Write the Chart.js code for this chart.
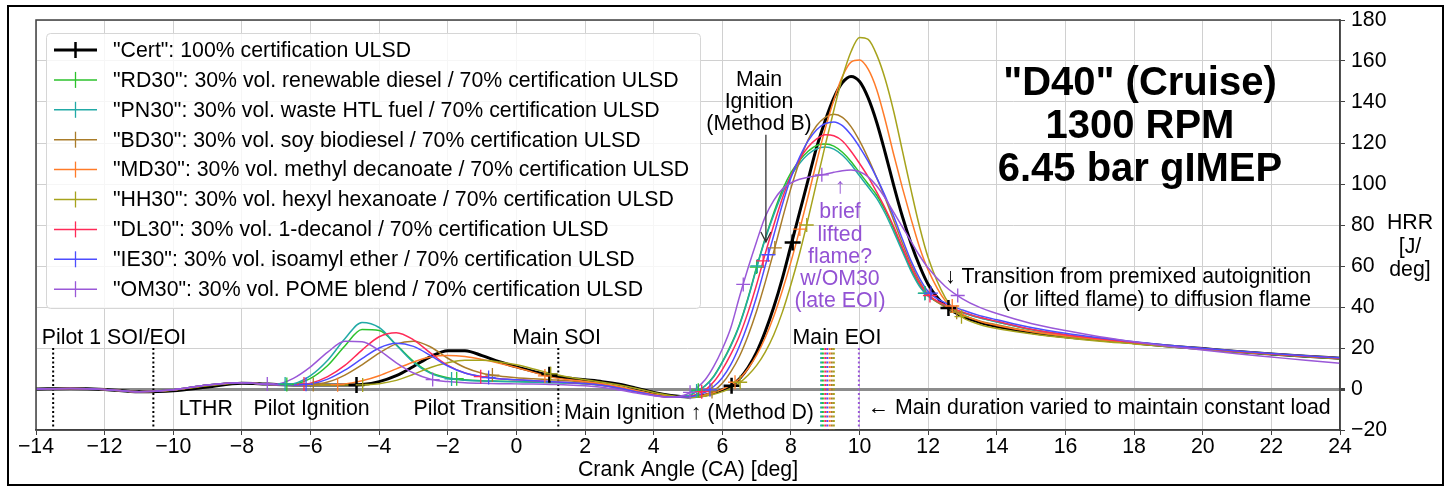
<!DOCTYPE html>
<html>
<head>
<meta charset="utf-8">
<title>D40 Cruise HRR</title>
<script src="https://cdn.jsdelivr.net/npm/chart.js@4.4.0/dist/chart.umd.min.js"></script>
<style>
  html, body { margin: 0; padding: 0; background: #fff; }
  canvas { display: block; }
</style>
</head>
<body>
<canvas id="hrr" width="1451" height="489"></canvas>
<script>
// Crank angle grid [deg] shared by all heat-release-rate traces
const crankAngle = [-14, -13, -12, -11, -10, -9, -8, -7.5, -7,
  -6.5, -6, -5.5, -5, -4.5, -4, -3.5, -3, -2.5, -2, -1.5, -1, -0.5, 0, 0.5, 1, 1.5, 2, 2.5, 3, 3.5, 4, 4.5,
  5, 5.25, 5.5, 5.75, 6,
  6.25, 6.5, 6.75, 7, 7.25, 7.5, 7.75, 8, 8.25, 8.5, 8.75, 9, 9.25, 9.5, 9.75, 10, 10.25, 10.5, 10.75, 11, 11.25, 11.5, 11.75, 12,
  12.5, 13, 13.5, 14, 15, 16, 17, 18, 19, 20, 21, 22, 23, 24];

// Heat release rate [J/deg] per fuel
const certHRR = [0, 0.2, -0.2, -1.4, -0.9, 1.0, 2.8, 2.6, 2.2,
  2.0, 1.9, 1.9, 1.9, 2.2, 3.6, 6.5, 11, 15.8, 18.7, 18.6, 16.3, 13.3, 10.8, 8.6, 6.6, 5.4, 4.5, 3.6, 2.3, 0.4, -1.7, -3.2,
  -3.9, -3.7, -3.0, -1.9, -0.4,
  1.4, 5, 10.5, 18, 28, 40, 54, 70, 86, 102, 118, 131, 142, 149.5, 152.5, 150, 142, 130, 115, 99, 84, 71, 60, 51,
  40.5, 35.5, 32.5, 30.5, 27.5, 25.5, 24, 22.5, 21, 19.7, 18.3, 17.1, 16, 15];
const rd30HRR = [0, 0.2, -0.2, -1.3, -0.4, 2.0, 3.1, 2.6, 2.1,
  2.4, 5.2, 11.5, 21, 29, 28.5, 21.5, 13.5, 8, 5.5, 4.5, 4.0, 3.8, 3.6, 3.4, 3.2, 3.0, 2.6, 1.8, 0.5, -1.2, -2.8, -3.8,
  -3.4, -1.2, 1.6, 6.3, 13.2,
  21.5, 31.5, 44.5, 59.5, 73.5, 86, 97, 105.5, 111.5, 116, 118.8, 119.5, 118.5, 115.5, 111, 105.5, 100, 94.5, 87, 78, 68, 58.5, 50.5, 45.5,
  40.8, 37.3, 34.8, 32.8, 29, 26.4, 24.4, 22.6, 21, 19.6, 18.2, 17, 15.9, 14.9];
const pn30HRR = [0, 0.2, -0.2, -1.3, -0.4, 2.0, 3.1, 2.6, 2.1,
  2.6, 6.5, 14, 24.5, 32.5, 30, 21.5, 13, 7.6, 5.1, 4.3, 3.9, 3.7, 3.5, 3.3, 3.1, 2.9, 2.5, 1.7, 0.4, -1.3, -2.9, -3.8,
  -3.3, -1.0, 1.5, 6, 13,
  21, 31, 44, 59, 73, 85, 95.5, 104, 110, 114.5, 117.2, 118, 117, 114, 109.5, 104, 98.5, 93, 85.5, 76.5, 67, 57.5, 50, 45.3,
  40.7, 37.2, 34.7, 32.7, 29, 26.4, 24.4, 22.6, 21, 19.6, 18.2, 17, 15.9, 14.9];
const bd30HRR = [0, 0.2, -0.2, -1.3, -0.5, 1.8, 3.0, 2.6, 2.1,
  1.9, 2.1, 3.4, 6.8, 11.8, 17.5, 22, 23.3, 20.5, 15, 10.5, 7.7, 6.3, 5.5, 5.0, 4.5, 4.0, 3.3, 2.3, 0.8, -1.0, -2.7, -3.8,
  -4.0, -3.7, -2.8, -0.8, 2.8,
  8.5, 16, 26, 38, 52, 67, 83, 98, 111, 121.5, 128.5, 132.5, 134, 132.5, 128, 121, 112.5, 103, 93, 82, 71, 61, 52.5, 46,
  40, 36, 33.2, 31.3, 28, 25.6, 23.8, 22.3, 20.9, 19.6, 18.3, 17.1, 16, 15];
const md30HRR = [0, 0.2, -0.2, -1.3, -0.5, 1.8, 3.0, 2.6, 2.1,
  2.0, 1.9, 1.9, 2.4, 4, 6.5, 9.8, 13.2, 15.6, 16.3, 15.8, 14.4, 12.6, 10.5, 8.1, 5.8, 4.6, 3.7, 2.6, 1.1, -0.8, -2.5, -3.6,
  -4.0, -3.7, -3.0, -1.8, -0.2,
  2, 5, 10, 16.5, 25, 35.5, 48, 62, 77.5, 94, 111, 127, 141, 152.5, 159.5, 160.5, 156, 146, 131, 114, 98, 83, 69, 58,
  43, 36.5, 33, 31, 28, 26, 24.2, 22.7, 21.2, 19.8, 18.4, 17.2, 16.1, 15.1];
const hh30HRR = [0, 0.2, -0.2, -1.3, -0.6, 1.6, 2.9, 2.6, 2.1,
  2.0, 1.9, 1.9, 1.9, 2.1, 2.6, 4.2, 7.2, 10.5, 12.8, 14, 14, 13.2, 11.8, 9.8, 7.6, 5.9, 4.5, 3.3, 1.9, 0.2, -1.7, -3.2,
  -4.0, -4.0, -3.5, -2.6, -1.3,
  0.4, 3, 6.7, 11.5, 18, 26.5, 37.5, 51, 66, 83, 101, 119, 136, 152, 164.5, 171.5, 170.5, 163, 151, 135, 116, 97, 79, 64,
  44.5, 35, 31.5, 29.5, 27, 25, 23.3, 22, 20.6, 19.3, 18, 16.9, 15.8, 14.8];
const dl30HRR = [0, 0.2, -0.2, -1.3, -0.4, 2.0, 3.1, 2.6, 2.1,
  2.0, 2.8, 6, 11.5, 19, 25.5, 27.5, 24, 17.5, 11.5, 7.8, 6.0, 5.0, 4.5, 4.0, 3.6, 3.2, 2.7, 1.8, 0.4, -1.4, -3.0, -4.0,
  -3.8, -2.5, -0.5, 3.5, 9.5,
  17, 26, 37.5, 51, 66, 80, 93, 104, 112, 118, 122, 124, 123.5, 121, 116, 110, 103.5, 96, 88, 79, 69, 59.5, 51.5, 46,
  41, 37.5, 35, 33, 29.2, 26.5, 24.5, 22.7, 21.1, 19.7, 18.3, 17.1, 16, 15];
const ie30HRR = [0, 0.2, -0.2, -1.3, -0.4, 2.0, 3.1, 2.6, 2.1,
  1.9, 2.4, 4.8, 9.2, 14.8, 20, 22.3, 20.8, 16.3, 11.2, 7.8, 6.0, 5.0, 4.5, 4.0, 3.6, 3.2, 2.7, 1.8, 0.4, -1.4, -3.0, -3.9,
  -3.9, -3.2, -1.6, 1.2, 5.5,
  12, 21, 32, 45, 60, 75, 90, 103, 113, 121, 126.5, 129.5, 130.3, 128.5, 124, 118, 111, 103, 94, 84, 73, 62.5, 54, 47.5,
  42, 38.5, 35.8, 33.8, 30, 27.2, 25, 23.1, 21.4, 19.9, 18.5, 17.3, 16.2, 15.2];
const om30HRR = [0, 0.2, -0.2, -1.3, -0.4, 2.0, 3.1, 2.6, 2.4,
  5.2, 10.8, 18, 23.3, 23, 18.8, 12.8, 7.8, 4.8, 3.6, 3.1, 2.8, 2.6, 2.5, 2.4, 2.2, 2.0, 1.6, 0.8, -0.5, -2.0, -3.3, -4.0,
  -2.3, 0.5, 4.5, 11, 19.5,
  30, 45, 59, 72, 84, 92, 97.5, 100.5, 102.3, 103.3, 104, 104.8, 105.7, 106.5, 106.8, 106, 103.5, 99, 93, 86, 79, 72, 65, 59,
  50, 44, 39.8, 36.8, 32, 28.5, 25.5, 23, 20.8, 19, 17.2, 15.6, 14, 12.6];

// Combustion event markers [crank angle, HRR]:
// pilot ignition, pilot transition, main ignition (D), main ignition (B), transition to diffusion flame
const certMarks = [[-4.66, 2.0], [0.96, 7.0], [6.27, 1.6], [8.05, 71.5], [12.59, 39.5]];
const rd30Marks = [[-6.69, 2.2], [-1.74, 5.0], [5.3, -0.6], [7.0, 59.5], [11.91, 46.8]];
const pn30Marks = [[-6.74, 2.5], [-1.89, 4.9], [5.25, -1.0], [7.02, 60], [11.9, 46.6]];
const bd30Marks = [[-5.92, 2.2], [-0.7, 6.8], [5.7, -1.2], [7.53, 68.8], [12.83, 37.4]];
const md30Marks = [[-5.21, 2.1], [0.83, 6.4], [6.37, 3.3], [8.26, 78], [12.7, 40.5]];
const hh30Marks = [[-4.48, 2.0], [1.0, 7.4], [6.52, 3.3], [8.46, 80], [12.97, 35.3]];
const dl30Marks = [[-6.19, 2.4], [-1.04, 6.0], [5.4, -1.3], [7.19, 62.5], [12.05, 45.6]];
const ie30Marks = [[-6.13, 2.3], [-0.81, 5.6], [5.64, -0.4], [7.34, 65.5], [12.08, 46.8]];
const om30Marks = [[-7.26, 2.5], [-2.44, 4.6], [5.06, -1.6], [6.61, 51], [8.9, 104.5], [12.86, 45.6]];

const seriesLabels = [
  '"Cert": 100% certification ULSD',
  '"RD30": 30% vol. renewable diesel / 70% certification ULSD',
  '"PN30": 30% vol. waste HTL fuel / 70% certification ULSD',
  '"BD30": 30% vol. soy biodiesel / 70% certification ULSD',
  '"MD30": 30% vol. methyl decanoate / 70% certification ULSD',
  '"HH30": 30% vol. hexyl hexanoate / 70% certification ULSD',
  '"DL30": 30% vol. 1-decanol / 70% certification ULSD',
  '"IE30": 30% vol. isoamyl ether / 70% certification ULSD',
  '"OM30": 30% vol. POME blend / 70% certification ULSD'
];
const seriesHRR = [certHRR, rd30HRR, pn30HRR, bd30HRR, md30HRR, hh30HRR, dl30HRR, ie30HRR, om30HRR];
const seriesMarks = [certMarks, rd30Marks, pn30Marks, bd30Marks, md30Marks, hh30Marks, dl30Marks, ie30Marks, om30Marks];

// Injection timing [deg]
const pilotSOI = -13.5;
const pilotEOI = -10.58;
const mainSOI = 1.22;
const mainEOISeries = [2, 1, 6, 7, 4, 3, 5, 8];          // index into series
const mainEOI = [8.88, 8.93, 9.0, 9.06, 9.13, 9.19, 9.25, 9.98];

// Axis ranges
const xRange = [-14, 24];
const yRange = [-20, 180];

// ---- styling ----
const FONT = '"Liberation Sans", Arial, Helvetica, sans-serif';
const FS = 21.3;
const colors = ['#000000', '#2cc22c', '#22aaa6', '#a97c2a', '#ff7b29', '#a6a31c', '#ff2a57', '#4d4dff', '#9a58d8'];
const widths = [3, 1.5, 1.5, 1.5, 1.5, 1.5, 1.5, 1.5, 1.5];
const purpleText = '#9352d4';

Chart.defaults.font.family = FONT;
Chart.defaults.color = '#000';

const minus = v => (v < 0 ? '\u2212' + Math.abs(v) : String(v));

const datasets = [];
// injection timing marks (dotted)
const vline = (x, color, order) => ({
  type: 'line', data: [{x, y: 20}, {x, y: -20}], borderColor: color, borderWidth: 2,
  borderDash: [2, 2.5], pointRadius: 0, order, clip: false
});
datasets.push(vline(pilotSOI, '#000', 40));
datasets.push(vline(pilotEOI, '#000', 40));
datasets.push(vline(mainSOI, '#000', 40));
mainEOI.forEach((x, i) => datasets.push(vline(x, colors[mainEOISeries[i]], 40)));

// HRR traces
seriesHRR.forEach((arr, i) => {
  datasets.push({
    type: 'line', label: seriesLabels[i],
    data: crankAngle.map((x, k) => ({x, y: arr[k]})),
    borderColor: colors[i], borderWidth: widths[i], pointRadius: 0,
    cubicInterpolationMode: 'monotone', fill: false,
    order: 30 - i
  });
});
// event markers
seriesMarks.forEach((m, i) => {
  datasets.push({
    type: 'line', showLine: false,
    data: m.map(p => ({x: p[0], y: p[1]})),
    pointStyle: 'cross', pointRadius: i === 0 ? 8 : 7,
    pointBorderWidth: i === 0 ? 2.5 : 1.3, pointBorderColor: colors[i], borderColor: colors[i],
    order: 10 - i / 10
  });
});

const notes = [
  {t: 'Pilot 1 SOI/EOI', x: -13.83, y: 24.9, a: 'left'},
  {t: 'LTHR', x: -9.05, y: -9.8},
  {t: 'Pilot Ignition', x: -5.97, y: -9.8},
  {t: 'Pilot Transition', x: -0.96, y: -9.8},
  {t: 'Main SOI', x: 1.17, y: 24.9},
  {t: 'Main Ignition \u2191 (Method D)', x: 1.39, y: -11.7, a: 'left'},
  {t: '\u2190 Main duration varied to maintain constant load', x: 10.24, y: -9.3, a: 'left'},
  {t: 'Main EOI', x: 9.34, y: 25},
  {t: 'Main', x: 7.07, y: 150.7},
  {t: 'Ignition', x: 7.07, y: 139.8},
  {t: '(Method B)', x: 7.07, y: 129.3},
  {t: '\u2191', x: 9.43, y: 98.5, c: purpleText},
  {t: 'brief', x: 9.43, y: 86.3, c: purpleText},
  {t: 'lifted', x: 9.43, y: 75.1, c: purpleText},
  {t: 'flame?', x: 9.43, y: 64.4, c: purpleText},
  {t: 'w/OM30', x: 9.43, y: 53.7, c: purpleText},
  {t: '(late EOI)', x: 9.43, y: 42.9, c: purpleText},
  {t: '\u2193 Transition from premixed autoignition', x: 23.16, y: 54.6, a: 'right'},
  {t: '(or lifted flame) to diffusion flame', x: 23.16, y: 43.4, a: 'right'}
];
const titleLines = ['"D40" (Cruise)', '1300 RPM', '6.45 bar gIMEP'];

const decor = {
  id: 'decor',
  beforeDraw(chart) {
    const ctx = chart.ctx;
    ctx.save();
    ctx.fillStyle = '#fff';
    ctx.fillRect(0, 0, chart.width, chart.height);
    ctx.restore();
  },
  afterDatasetsDraw(chart) {
    const {ctx, chartArea: a, scales: {x, y}} = chart;
    ctx.save();
    // plot frame
    ctx.strokeStyle = '#404040';
    ctx.lineWidth = 1.5;
    ctx.strokeRect(a.left, a.top, a.right - a.left, a.bottom - a.top);

    // annotations
    ctx.font = FS + 'px ' + FONT;
    ctx.textBaseline = 'middle';
    notes.forEach(n => {
      ctx.fillStyle = n.c || '#000';
      ctx.textAlign = n.a || 'center';
      ctx.fillText(n.t, x.getPixelForValue(n.x), y.getPixelForValue(n.y));
    });

    // arrow for Method B ignition
    const ax = x.getPixelForValue(7.27), ay0 = y.getPixelForValue(124), ay1 = y.getPixelForValue(71.7);
    ctx.strokeStyle = '#333';
    ctx.lineWidth = 1.3;
    ctx.beginPath();
    ctx.moveTo(ax, ay0); ctx.lineTo(ax, ay1);
    ctx.moveTo(ax - 5, ay1 - 10); ctx.lineTo(ax, ay1); ctx.lineTo(ax + 5, ay1 - 10);
    ctx.stroke();

    // operating point title
    ctx.fillStyle = '#000';
    ctx.textAlign = 'center';
    ctx.textBaseline = 'alphabetic';
    ctx.font = 'bold 40px ' + FONT;
    const tx = x.getPixelForValue(18.17);
    [143.4, 122.4, 101.5].forEach((v, i) => ctx.fillText(titleLines[i], tx, y.getPixelForValue(v)));

    // legend
    const lx = a.left + 10, ly = a.top + 13, lw = 654, lh = 275;
    ctx.fillStyle = 'rgba(255,255,255,0.8)';
    ctx.strokeStyle = '#d6d6d6';
    ctx.lineWidth = 1;
    ctx.beginPath();
    ctx.roundRect(lx + 0.5, ly + 0.5, lw, lh, 4);
    ctx.fill();
    ctx.stroke();
    ctx.font = FS + 'px ' + FONT;
    ctx.textAlign = 'left';
    ctx.textBaseline = 'middle';
    seriesLabels.forEach((lab, i) => {
      const ry = ly + 17 + i * 29.9;
      ctx.strokeStyle = colors[i];
      ctx.lineWidth = widths[i];
      ctx.beginPath();
      ctx.moveTo(lx + 8, ry); ctx.lineTo(lx + 51, ry);
      ctx.stroke();
      ctx.lineWidth = i === 0 ? 2.5 : 1.3;
      ctx.beginPath();
      ctx.moveTo(lx + 29.5, ry - 8); ctx.lineTo(lx + 29.5, ry + 8);
      ctx.stroke();
      ctx.fillStyle = '#000';
      ctx.fillText(lab, lx + 67, ry + 1);
    });
    ctx.restore();
  },
  afterDraw(chart) {
    const {ctx, chartArea: a, scales: {y}} = chart;
    ctx.save();
    // y-axis title
    ctx.font = FS + 'px ' + FONT;
    ctx.fillStyle = '#000';
    ctx.textAlign = 'center';
    ctx.textBaseline = 'middle';
    const hx = a.right + 70;
    [['HRR', 81], ['[J/', 69.3], ['deg]', 58]].forEach(([t, v]) => ctx.fillText(t, hx, y.getPixelForValue(v)));
    // figure frame
    ctx.strokeStyle = '#000';
    ctx.lineWidth = 2;
    ctx.strokeRect(8, 6, chart.width - 16, chart.height - 10);
    ctx.restore();
  }
};

new Chart(document.getElementById('hrr'), {
  type: 'line',
  data: {datasets},
  options: {
    responsive: false,
    devicePixelRatio: 1,
    animation: false,
    events: [],
    layout: {padding: {left: 36, top: 20, right: 0, bottom: 0}},
    plugins: {legend: {display: false}, tooltip: {enabled: false}},
    scales: {
      x: {
        type: 'linear', position: 'bottom', min: xRange[0], max: xRange[1],
        afterFit: s => { s.height = 59; },
        ticks: {stepSize: 2, padding: 1, font: {size: FS, lineHeight: 1}, color: '#000', callback: minus, maxRotation: 0},
        grid: {color: '#d0d0d0', lineWidth: 1, tickLength: 5, tickColor: '#404040'},
        border: {color: '#404040', width: 1.5},
        title: {display: true, text: 'Crank Angle (CA) [deg]', font: {size: FS, lineHeight: 1}, color: '#000', padding: {top: 0, bottom: 8}}
      },
      y: {
        type: 'linear', position: 'right', min: yRange[0], max: yRange[1],
        afterFit: s => { s.width = 111; },
        ticks: {stepSize: 20, padding: 6, font: {size: FS, lineHeight: 1}, color: '#000', callback: minus},
        grid: {
          color: c => (c.tick && c.tick.value === 0 ? '#8c8c8c' : '#d0d0d0'),
          lineWidth: c => (c.tick && c.tick.value === 0 ? 3 : 1),
          tickLength: 5, tickColor: '#404040'
        },
        border: {color: '#404040', width: 1.5}
      }
    }
  },
  plugins: [decor]
});
</script>
</body>
</html>
